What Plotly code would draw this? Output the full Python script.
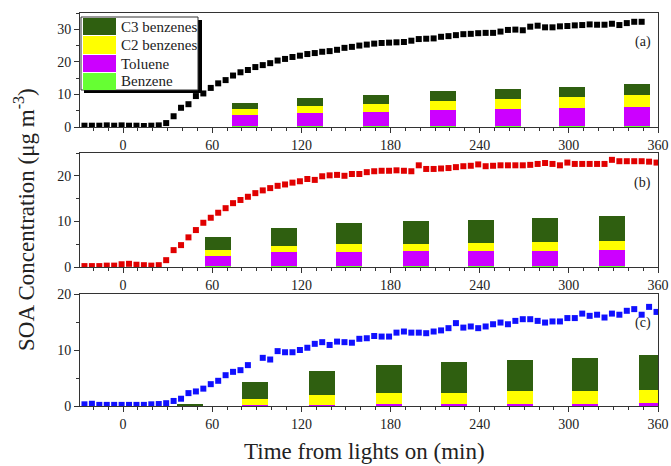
import plotly.graph_objects as go

# ---------------- data ----------------
time_min = [-26, -21, -16, -11, -6, -1, 4, 9, 14, 19, 24, 29, 34, 39, 44, 49, 54, 59, 64, 69,
            74, 79, 84, 89, 94, 99, 104, 109, 114, 119, 124, 129, 134, 139, 144, 149, 154, 159,
            164, 169, 174, 179, 184, 189, 194, 199, 204, 209, 214, 219, 224, 229, 234, 239, 244,
            249, 254, 259, 264, 269, 274, 279, 284, 289, 294, 299, 304, 309, 314, 319, 324, 329,
            334, 339, 344, 349, 354, 359]

soa_a = [0.4, 0.4, 0.4, 0.5, 0.4, 0.5, 0.4, 0.4, 0.3, 0.4, 0.5,
         1.2, 3.3, 5.9, 7.0, 9.5, 10.3, 12.0, 13.4, 14.4, 15.8, 16.8, 17.5, 18.4, 19.0, 19.6,
         20.4, 20.9, 21.5, 21.9, 22.4, 22.7, 23.1, 23.3, 23.7, 24.3, 24.6, 25.0,
         25.3, 25.6, 25.8, 25.9, 26.0, 26.1, 26.5, 27.0, 27.1, 27.2, 27.7, 27.9, 28.2, 28.5,
         28.6, 28.8, 28.9, 28.9, 29.3, 29.8, 29.9, 29.7, 30.8, 31.1, 30.6, 30.6, 30.9, 31.0,
         31.2, 31.3, 31.5, 31.4, 31.4, 31.7, 31.3, 31.9, 32.3, 32.3]

soa_b = [0.2, 0.2, 0.2, 0.3, 0.3, 0.6, 0.7, 0.5, 0.4, 0.3, 0.4,
         1.5, 3.7, 4.8, 6.5, 8.1, 9.7, 10.8, 11.9, 12.9, 14.0, 14.7, 15.4, 16.2, 16.8, 17.3,
         17.8, 18.1, 18.5, 18.8, 19.3, 19.1, 19.9, 20.1, 20.2, 20.0, 20.4, 20.4,
         20.8, 21.0, 21.1, 21.1, 21.2, 21.1, 21.0, 22.3, 21.5, 21.5, 21.6, 21.7, 21.9, 22.1,
         22.2, 22.5, 22.1, 22.2, 22.3, 22.3, 22.3, 22.3, 22.4, 22.6, 22.8, 22.6, 22.3, 22.9,
         22.6, 22.6, 22.6, 22.6, 22.6, 23.5, 23.2, 23.2, 23.2, 23.2, 23.1, 22.9]

soa_c = [0.3, 0.4, 0.2, 0.2, 0.2, 0.2, 0.2, 0.2, 0.2, 0.3, 0.35,
         0.5, 0.9, 1.3, 2.3, 2.6, 3.1, 3.9, 4.5, 5.5, 6.1, 6.4, 7.3, None, 8.6, 8.3,
         9.8, 9.6, 9.6, 10.0, 10.4, 11.1, 11.4, 10.9, 11.5, 11.4, 11.3, 12.0,
         12.1, 12.5, 12.4, 12.4, 13.1, 13.3, 13.1, 13.1, 13.0, 13.3, 13.5, 13.9, 14.8, 14.0,
         14.2, 13.9, 14.2, 14.6, 14.9, 14.6, 15.2, 15.5, 15.5, 15.2, 14.9, 15.1, 15.1, 15.7,
         15.7, 16.5, 16.1, 16.3, 15.8, 16.5, 16.3, 17.0, 17.3, 16.3, 17.7, 16.8]

# bar positions (min) and stacked contributions
bar_t_a = [82, 126, 170, 215, 259, 302, 346]
benz_a = [0.3, 0.3, 0.3, 0.3, 0.3, 0.3, 0.3]
tol_a = [3.3, 4.0, 4.3, 4.9, 5.2, 5.5, 5.9]
c2_a = [1.9, 2.2, 2.6, 2.8, 3.1, 3.3, 3.7]
c3_a = [1.9, 2.5, 2.6, 3.0, 3.0, 3.3, 3.3]

bar_t_b = [64, 108, 152, 197, 241, 284, 329]
benz_b = [0.25, 0.25, 0.25, 0.25, 0.25, 0.25, 0.25]
tol_b = [2.15, 2.95, 3.05, 3.25, 3.25, 3.25, 3.45]
c2_b = [1.3, 1.4, 1.7, 1.6, 1.8, 1.9, 2.0]
c3_b = [2.8, 4.0, 4.6, 5.0, 5.1, 5.3, 5.5]

bar_t_c = [45, 89, 134, 179, 223, 267, 311, 356]
benz_c = [0.02, 0.02, 0.02, 0.02, 0.02, 0.02, 0.02, 0.02]
tol_c = [0.02, 0.18, 0.23, 0.28, 0.33, 0.38, 0.38, 0.46]
c2_c = [0.06, 1.0, 1.75, 2.0, 2.05, 2.2, 2.3, 2.42]
c3_c = [0.25, 3.0, 4.3, 5.0, 5.4, 5.7, 5.9, 6.2]

species = ["C3 benzenes", "C2 benzenes", "Toluene", "Benzene"]
species_colors = {"C3 benzenes": "#2f5f10", "C2 benzenes": "#ffff00",
                  "Toluene": "#cc00ff", "Benzene": "#66ff33"}

x_ticks = [0, 60, 120, 180, 240, 300, 360]
panel_labels = ["(a)", "(b)", "(c)"]
y_ranges = [[0, 35], [0, 25], [0, 20]]

# ---------------- layout helpers ----------------
W, H = 671, 466
L, R, T, B = 80, 658, 13, 406


def px(x):
    return (x - L) / (R - L)


def py(y):
    return (B - y) / (B - T)


FONT = "Liberation Serif, Times New Roman, serif"
fig = go.Figure()

panels = [
    (soa_a, "#000000", bar_t_a, benz_a, tol_a, c2_a, c3_a, "x", "y"),
    (soa_b, "#e00000", bar_t_b, benz_b, tol_b, c2_b, c3_b, "x2", "y2"),
    (soa_c, "#1010ff", bar_t_c, benz_c, tol_c, c2_c, c3_c, "x3", "y3"),
]

for soa, col, bt, benz, tol, c2, c3, xa, ya in panels:
    for name, vals in [("Benzene", benz), ("Toluene", tol), ("C2 benzenes", c2), ("C3 benzenes", c3)]:
        fig.add_trace(go.Bar(x=bt, y=vals, width=17.5, marker=dict(color=species_colors[name], line=dict(width=0)),
                             name=name, showlegend=False, xaxis=xa, yaxis=ya))
    fig.add_trace(go.Scatter(x=time_min[:len(soa)], y=soa, mode="markers",
                             marker=dict(symbol="square", size=6, color=col, line=dict(width=0)),
                             showlegend=False, xaxis=xa, yaxis=ya))

domains = [[py(127), 1.0], [py(267), py(153)], [0.0, py(294)]]

axis_common = dict(showline=True, linecolor="#333", linewidth=1, mirror=True,
                   ticks="outside", ticklen=5, tickcolor="#333", showgrid=False, zeroline=False,
                   automargin=False,
                   tickfont=dict(family=FONT, size=14, color="#222"))

layout = dict(width=W, height=H, autosize=False, margin=dict(l=L, r=W - R, t=T, b=H - B, pad=0, autoexpand=False),
              paper_bgcolor="white", plot_bgcolor="white", barmode="stack", bargap=0,
              showlegend=False)

for k in range(3):
    sx = "" if k == 0 else str(k + 1)
    layout["xaxis" + sx] = dict(axis_common, domain=[0, 1], anchor="y" + sx, range=[-29, 360],
                                tickvals=x_ticks, minor=dict(dtick=10, tick0=0, ticklen=3, ticks="outside",
                                                             tickcolor="#333"))
    layout["yaxis" + sx] = dict(axis_common, domain=domains[k], anchor="x" + sx, range=y_ranges[k],
                                dtick=10, minor=dict(dtick=5, ticklen=3, ticks="outside", tickcolor="#333"))

fig.update_layout(**layout)

# ---------------- custom legend (large swatches) ----------------
shapes = []
annotations = []
shapes.append(dict(type="rect", xref="paper", yref="paper", x0=px(84), x1=px(202), y0=py(93), y1=py(20),
                   fillcolor="black", line=dict(width=0), layer="above"))
shapes.append(dict(type="rect", xref="paper", yref="paper", x0=px(81), x1=px(198), y0=py(90), y1=py(17),
                   fillcolor="white", line=dict(color="#333", width=1), layer="above"))
rows = [(18, 35), (36, 54), (55, 72), (73, 90)]
for name, (y0, y1) in zip(species, rows):
    shapes.append(dict(type="rect", xref="paper", yref="paper", x0=px(83), x1=px(116), y0=py(y1), y1=py(y0),
                       fillcolor=species_colors[name], line=dict(width=0), layer="above"))
    annotations.append(dict(xref="paper", yref="paper", x=px(119), y=py((y0 + y1) / 2), text=name,
                            showarrow=False, xanchor="left", yanchor="middle",
                            font=dict(family=FONT, size=15, color="#222")))

for lab, yy in zip(panel_labels, [42, 183, 323]):
    annotations.append(dict(xref="paper", yref="paper", x=px(653), y=py(yy), text=lab, showarrow=False,
                            xanchor="right", yanchor="middle", font=dict(family=FONT, size=14, color="#222")))

annotations.append(dict(xref="paper", yref="paper", x=px(364), y=py(451), text="Time from lights on (min)",
                        showarrow=False, xanchor="center", yanchor="middle",
                        font=dict(family=FONT, size=23, color="#222")))
annotations.append(dict(xref="paper", yref="paper", x=px(24), y=py(220),
                        text="SOA Concentration (μg m<sup>-3</sup>)", textangle=-90,
                        showarrow=False, xanchor="center", yanchor="middle",
                        font=dict(family=FONT, size=23, color="#222")))

fig.update_layout(shapes=shapes, annotations=annotations)
fig.write_html("out.html", config={"displayModeBar": False},
               post_script="document.body.style.margin='0';document.body.style.overflow='hidden';")
